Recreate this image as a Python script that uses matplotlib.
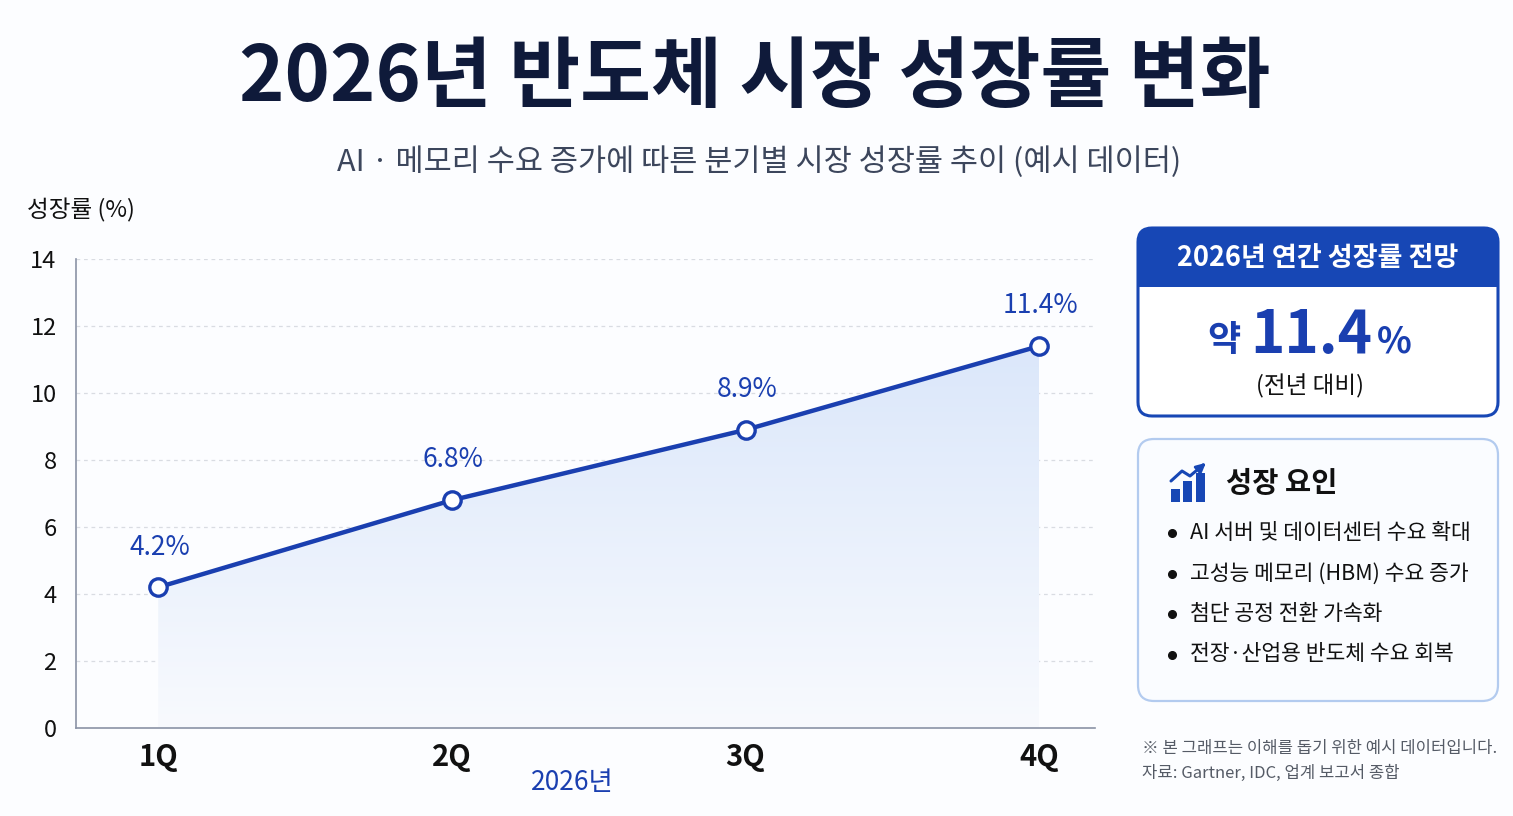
import numpy as np
import matplotlib.pyplot as plt
from matplotlib.patches import FancyBboxPatch, Rectangle, Polygon
from matplotlib.colors import LinearSegmentedColormap

plt.rcParams['font.family'] = ['Noto Sans CJK KR', 'DejaVu Sans']

quarters = ['1Q', '2Q', '3Q', '4Q']
growth = [4.2, 6.8, 8.9, 11.4]
y_ticks = [0, 2, 4, 6, 8, 10, 12, 14]
factors = ['AI 서버 및 데이터센터 수요 확대',
           '고성능 메모리 (HBM) 수요 증가',
           '첨단 공정 전환 가속화',
           '전장·산업용 반도체 수요 회복']
annual_outlook = 11.4

W, H = 1513, 816
BLUE = '#1a3fb0'
NAVY = '#0f1a3a'
GRAY_TXT = '#3c465c'

fig = plt.figure(figsize=(W / 100, H / 100), dpi=100)
fig.patch.set_facecolor('#fcfdff')

# overlay axes in pixel coords for panels
ov = fig.add_axes([0, 0, 1, 1])
ov.set_xlim(0, W)
ov.set_ylim(H, 0)
ov.axis('off')

ax = fig.add_axes([76 / W, 1 - 728 / H, (1095 - 76) / W, (728 - 259) / H])
ax.set_facecolor('none')

x = np.arange(len(quarters))
y = np.array(growth)

# gradient fill under the line
verts = np.column_stack([np.r_[x, x[::-1]], np.r_[y, np.zeros_like(y)]])
clip = Polygon(verts, closed=True, fc='none', ec='none')
ax.add_patch(clip)
cmap = LinearSegmentedColormap.from_list('fill', ['#f8fafe', '#dbe7fa'])
grad = np.linspace(0, 1, 256).reshape(-1, 1)
im = ax.imshow(grad, cmap=cmap, origin='lower', aspect='auto',
               extent=[x[0], x[-1], 0, y.max()], zorder=1)
im.set_clip_path(clip)

ax.plot(x, y, color=BLUE, linewidth=3.2, zorder=3, solid_capstyle='round')
ax.plot(x, y, linestyle='none', marker='o', markersize=12.5,
        markerfacecolor='white', markeredgecolor=BLUE, markeredgewidth=2.4, zorder=4)

for xi, yi in zip(x, y):
    ax.annotate(f'{yi:.1f}%', (xi, yi), xytext=(1, 29), textcoords='offset points',
                ha='center', va='center', fontsize=19, color=BLUE)

ax.set_xlim(-0.28, 3.19)
ax.set_ylim(0, 14)
ax.set_yticks(y_ticks)
ax.set_xticks(x)
ax.set_xticklabels(quarters, fontsize=21, fontweight='bold', color='#111111')
ax.tick_params(axis='y', length=0, pad=14, labelsize=17, labelcolor='#111111')
ax.tick_params(axis='x', length=0, pad=10)
for yt in y_ticks[1:]:
    ax.axhline(yt, color='#d9dce2', linestyle=(0, (3, 3)), linewidth=0.9, zorder=0)
for s in ['top', 'right']:
    ax.spines[s].set_visible(False)
for s in ['left', 'bottom']:
    ax.spines[s].set_color('#8a93a6')
    ax.spines[s].set_linewidth(1.2)

def px(xp, yp):
    return xp / W, 1 - yp / H

# titles
fig.text(*px(755, 78), '2026년 반도체 시장 성장률 변화', ha='center', va='center',
         fontsize=55.5, fontweight='black', color=NAVY)
fig.text(*px(759, 162), 'AI · 메모리 수요 증가에 따른 분기별 시장 성장률 추이 (예시 데이터)',
         ha='center', va='center', fontsize=22, color=GRAY_TXT)
fig.text(*px(27, 210), '성장률 (%)', ha='left', va='center', fontsize=17, color='#111111')
fig.text(*px(572, 783), '2026년', ha='center', va='center', fontsize=19, color=BLUE)

# outlook panel
bx, by, bw, bh, r = 1138, 228, 360, 188, 14
outer = FancyBboxPatch((bx, by), bw, bh, boxstyle=f'round,pad=0,rounding_size={r}',
                       fc='white', ec='none')
ov.add_patch(outer)
head = FancyBboxPatch((bx, by), bw, bh, boxstyle=f'round,pad=0,rounding_size={r}',
                      fc='#1747b5', ec='none')
ov.add_patch(head)
head.set_clip_path(Rectangle((bx - 5, by - 5), bw + 10, 287 - by + 5, transform=ov.transData))
border = FancyBboxPatch((bx, by), bw, bh, boxstyle=f'round,pad=0,rounding_size={r}',
                        fc='none', ec='#1747b5', lw=2.2)
ov.add_patch(border)
ov.text(1318, 258, '2026년 연간 성장률 전망', ha='center', va='center',
        fontsize=19.5, fontweight='bold', color='white')
ov.text(1241, 341, '약', ha='right', va='center', fontsize=26, fontweight='bold', color=BLUE)
ov.text(1311, 336, f'{annual_outlook:.1f}', ha='center', va='center',
        fontsize=42, fontweight='bold', color=BLUE)
ov.text(1377, 342, '%', ha='left', va='center', fontsize=26, fontweight='bold', color=BLUE)
ov.text(1310, 386, '(전년 대비)', ha='center', va='center', fontsize=17, color='#111111')

# growth factors panel
fp = FancyBboxPatch((1138, 439), 360, 262, boxstyle='round,pad=0,rounding_size=16',
                    fc='#fafcff', ec='#b3cbef', lw=1.6)
ov.add_patch(fp)
# icon
for bx0, top in [(1171, 489), (1183, 481), (1196, 473)]:
    ov.add_patch(Rectangle((bx0, top), 9, 502 - top, fc='#1747b5', ec='none'))
ov.plot([1171, 1182, 1190, 1203], [481, 471, 476, 465], color='#1747b5', lw=2.2,
        solid_capstyle='round')
ov.annotate('', xy=(1208, 461), xytext=(1200, 468),
            arrowprops=dict(arrowstyle='-|>', color='#1747b5', lw=2, mutation_scale=14))
ov.text(1226, 484, '성장 요인', ha='left', va='center', fontsize=20.5, fontweight='bold',
        color='#111111')
for i, f in enumerate(factors):
    yy = 533 + i * 40.5
    ov.plot(1172, yy, marker='o', markersize=5.5, color='#111111')
    ov.text(1190, yy, f, ha='left', va='center', fontsize=15.5, color='#111111')

# footnotes
ov.text(1142, 748, '※ 본 그래프는 이해를 돕기 위한 예시 데이터입니다.', ha='left', va='center',
        fontsize=12, color='#555b66')
ov.text(1142, 773, '자료: Gartner, IDC, 업계 보고서 종합', ha='left', va='center',
        fontsize=12, color='#555b66')

fig.savefig('out.png', dpi=100, facecolor=fig.get_facecolor())
